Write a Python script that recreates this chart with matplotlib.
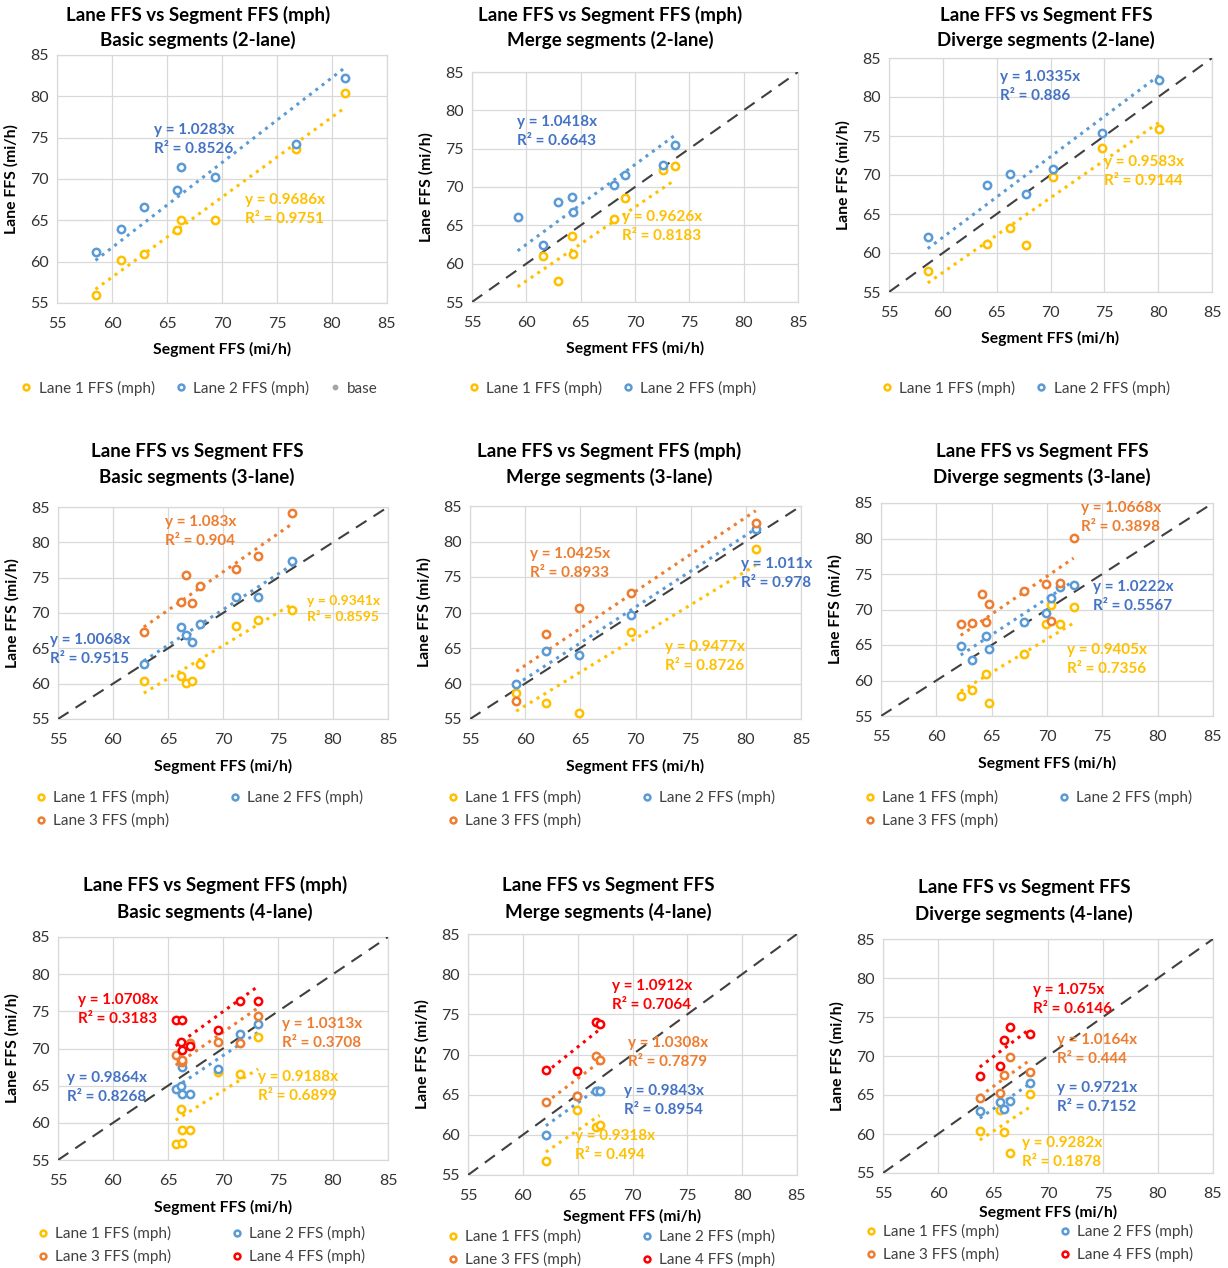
import numpy as np
import matplotlib
matplotlib.use("Agg")
from matplotlib import pyplot as plt
from matplotlib.lines import Line2D

plt.rcParams['font.family'] = ['Lato', 'DejaVu Sans']

nan = np.nan

# ---- data ----
# Basic segments (2-lane)
b2_seg = [58.5, 60.8, 62.9, 65.9, 66.3, 69.4, 76.7, 81.2]
b2_l1 = [56.0, 60.2, 60.9, 63.8, 65.0, 65.0, 73.6, 80.4]
b2_l2 = [61.2, 64.0, 66.6, 68.7, 71.5, 70.2, 74.2, 82.2]

# Merge segments (2-lane)
m2_seg = [59.2, 61.5, 62.9, 64.2, 64.3, 68.1, 69.1, 72.6, 73.7]
m2_l1 = [nan, 61.0, 57.8, 63.6, 61.2, 65.8, 68.5, 72.2, 72.8]
m2_l2 = [66.1, 62.4, 68.1, 68.7, 66.8, 70.2, 71.5, 72.9, 75.5]

# Diverge segments (2-lane)
d2_seg = [58.6, 64.1, 66.2, 67.7, 70.2, 74.8, 80.1]
d2_l1 = [57.7, 61.2, 63.2, 61.0, 69.8, 73.4, 75.9]
d2_l2 = [62.0, 68.7, 70.1, 67.6, 70.8, 75.4, 82.2]

# Basic segments (3-lane)
b3_seg = [62.8, 66.2, 66.6, 67.2, 67.9, 71.2, 73.2, 76.3]
b3_l1 = [60.4, 61.1, 60.1, 60.4, 62.8, 68.2, 69.0, 70.4]
b3_l2 = [62.8, 68.0, 66.9, 65.9, 68.4, 72.2, 72.3, 77.3]
b3_l3 = [67.3, 71.5, 75.4, 71.4, 73.8, 76.2, 78.1, 84.1]

# Merge segments (3-lane)
m3_seg = [59.2, 61.9, 64.9, 69.6, 80.9]
m3_l1 = [58.6, 57.3, 55.9, 67.2, 79.0]
m3_l2 = [60.0, 64.6, 64.0, 69.7, 81.8]
m3_l3 = [57.6, 67.0, 70.7, 72.7, 82.6]

# Diverge segments (3-lane)
d3_seg = [62.2, 63.2, 64.1, 64.5, 64.8, 67.9, 69.9, 70.4, 71.2, 72.4]
d3_l1 = [57.8, 58.6, nan, 60.9, 56.8, 63.8, 68.0, 70.7, 68.0, 70.4]
d3_l2 = [64.9, 62.9, nan, 66.2, 64.4, 68.3, 69.5, 71.6, 73.2, 73.4]
d3_l3 = [68.0, 68.1, 72.2, 68.2, 70.8, 72.6, 73.6, 68.4, 73.8, 80.1]

# Basic segments (4-lane)
b4_seg = [65.7, 66.2, 66.3, 66.3, 67.0, 69.5, 71.5, 73.2]
b4_l1 = [57.2, 61.9, 57.3, 59.1, 59.1, 66.9, 66.6, 71.6]
b4_l2 = [64.5, 65.0, 67.5, 63.9, 63.9, 67.3, 72.0, 73.3]
b4_l3 = [69.1, 68.3, 68.2, 68.4, 70.8, 70.9, 70.8, 74.4]
b4_l4 = [73.9, 70.9, 73.8, 69.8, 70.4, 72.5, 76.4, 76.4]

# Merge segments (4-lane)
m4_seg = [62.1, 64.9, 66.7, 67.0]
m4_l1 = [56.8, 63.1, 61.0, 61.2]
m4_l2 = [60.0, 64.8, 65.4, 65.5]
m4_l3 = [64.1, 64.8, 69.8, 69.3]
m4_l4 = [68.1, 68.0, 74.1, 73.8]

# Diverge segments (4-lane)
d4_seg = [63.8, 65.6, 66.0, 66.5, 68.4]
d4_l1 = [60.4, 63.1, 60.2, 57.6, 65.1]
d4_l2 = [62.9, 64.1, 63.2, 64.2, 66.5]
d4_l3 = [64.6, 65.3, 67.6, 69.9, 67.9]
d4_l4 = [67.4, 68.7, 72.0, 73.7, 72.8]

# trendline equations (y = a x) shown in the chart
b2_fit = [(0.9686, 0.9751), (1.0283, 0.8526)]
m2_fit = [(0.9626, 0.8183), (1.0418, 0.6643)]
d2_fit = [(0.9583, 0.9144), (1.0335, 0.886)]
b3_fit = [(0.9341, 0.8595), (1.0068, 0.9515), (1.083, 0.904)]
m3_fit = [(0.9477, 0.8726), (1.011, 0.978), (1.0425, 0.8933)]
d3_fit = [(0.9405, 0.7356), (1.0222, 0.5567), (1.0668, 0.3898)]
b4_fit = [(0.9188, 0.6899), (0.9864, 0.8268), (1.0313, 0.3708), (1.0708, 0.3183)]
m4_fit = [(0.9318, 0.494), (0.9843, 0.8954), (1.0308, 0.7879), (1.0912, 0.7064)]
d4_fit = [(0.9282, 0.1878), (0.9721, 0.7152), (1.0164, 0.444), (1.075, 0.6146)]

lane_names = ["Lane 1 FFS (mph)", "Lane 2 FFS (mph)", "Lane 3 FFS (mph)", "Lane 4 FFS (mph)"]
mark_colors = ["#FFC000", "#5B9BD5", "#ED7D31", "#FF0000"]
text_colors = ["#FFC000", "#4472C4", "#ED7D31", "#FF0000"]

W, H = 1228, 1268

# panel layout: axes box (left, top, right, bottom px), title centre/rows, xlabel y,
# legend centre, label positions (data coords) per lane
panels = [
    dict(t1="Lane FFS vs Segment FFS (mph)", t2="Basic segments (2-lane)",
         seg=b2_seg, lanes=[b2_l1, b2_l2], fit=b2_fit, diag=False,
         box=(57, 55, 387, 303), tx=198, ty=(15, 40), xl=349, lg=(200, 388),
         lab=[(72.1, 66.3), (63.8, 74.8)]),
    dict(t1="Lane FFS vs Segment FFS (mph)", t2="Merge segments (2-lane)",
         seg=m2_seg, lanes=[m2_l1, m2_l2], fit=m2_fit, diag=True,
         box=(472, 72, 798, 302), tx=610, ty=(15, 40), xl=348, lg=(613, 388),
         lab=[(68.8, 64.8), (59.1, 77.3)]),
    dict(t1="Lane FFS vs Segment FFS", t2="Diverge segments (2-lane)",
         seg=d2_seg, lanes=[d2_l1, d2_l2], fit=d2_fit, diag=True,
         box=(889, 58, 1212, 292), tx=1046, ty=(15, 40), xl=338, lg=(1026, 388),
         lab=[(75.0, 70.5), (65.3, 81.4)]),
    dict(t1="Lane FFS vs Segment FFS", t2="Basic segments (3-lane)",
         seg=b3_seg, lanes=[b3_l1, b3_l2, b3_l3], fit=b3_fit, diag=True,
         box=(58, 507, 388, 719), tx=197, ty=(451, 477), xl=766, lg=(200, 797),
         lab=[(77.6, 70.6), (54.3, 64.9), (64.7, 81.6)]),
    dict(t1="Lane FFS vs Segment FFS (mph)", t2="Merge segments (3-lane)",
         seg=m3_seg, lanes=[m3_l1, m3_l2, m3_l3], fit=m3_fit, diag=True,
         box=(470, 506, 801, 719), tx=609, ty=(451, 477), xl=766, lg=(612, 797),
         lab=[(72.7, 63.8), (79.6, 75.5), (60.4, 76.9)]),
    dict(t1="Lane FFS vs Segment FFS", t2="Diverge segments (3-lane)",
         seg=d3_seg, lanes=[d3_l1, d3_l2, d3_l3], fit=d3_fit, diag=True,
         box=(881, 503, 1213, 716), tx=1042, ty=(451, 477), xl=763, lg=(1029, 797),
         lab=[(71.8, 62.9), (74.2, 71.8), (73.1, 82.9)]),
    dict(t1="Lane FFS vs Segment FFS (mph)", t2="Basic segments (4-lane)",
         seg=b4_seg, lanes=[b4_l1, b4_l2, b4_l3, b4_l4], fit=b4_fit, diag=True,
         box=(58, 937, 388, 1160), tx=215, ty=(885, 912), xl=1207, lg=(202, 1233),
         lab=[(73.2, 64.9), (55.8, 64.8), (75.4, 72.0), (56.8, 75.2)]),
    dict(t1="Lane FFS vs Segment FFS", t2="Merge segments (4-lane)",
         seg=m4_seg, lanes=[m4_l1, m4_l2, m4_l3, m4_l4], fit=m4_fit, diag=True,
         box=(468, 934, 797, 1175), tx=608, ty=(885, 912), xl=1216, lg=(612, 1236),
         lab=[(64.8, 58.7), (69.2, 64.3), (69.6, 70.3), (68.1, 77.4)]),
    dict(t1="Lane FFS vs Segment FFS", t2="Diverge segments (4-lane)",
         seg=d4_seg, lanes=[d4_l1, d4_l2, d4_l3, d4_l4], fit=d4_fit, diag=True,
         box=(883, 939, 1213, 1173), tx=1024, ty=(887, 914), xl=1212, lg=(1030, 1231),
         lab=[(67.6, 57.6), (70.8, 64.7), (70.8, 70.8), (68.6, 77.2)]),
]

fig = plt.figure(figsize=(W / 100, H / 100), dpi=100)

for i, p in enumerate(panels):
    l, t, r, b = p["box"]
    ax = fig.add_axes([l / W, 1 - b / H, (r - l) / W, (b - t) / H])
    ax.set_xlim(55, 85)
    ax.set_ylim(55, 85)
    ax.set_xticks(range(55, 86, 5))
    ax.set_yticks(range(55, 86, 5))
    ax.grid(color="#D9D9D9", lw=0.9)
    ax.set_axisbelow(True)
    for s in ax.spines.values():
        s.set_color("#D9D9D9")
        s.set_linewidth(0.9)
    ax.tick_params(length=0, labelsize=11.5, colors="#333333")
    ax.tick_params(axis="x", pad=10)
    ax.tick_params(axis="y", pad=6)

    seg = np.array(p["seg"])
    xs = np.array([seg.min(), seg.max()])
    if p["diag"]:
        ax.plot([55, 85], [55, 85], color="#404040", lw=1.5, dashes=(6, 4), zorder=3)

    handles = []
    for k, lane in enumerate(p["lanes"]):
        a, r2 = p["fit"][k]
        ax.plot(xs, a * xs, ls=(0, (1, 1.6)), lw=2.2, color=mark_colors[k], zorder=2)
        h, = ax.plot(seg, lane, ls="none", marker="o", ms=5.3, mew=1.8,
                     mfc="white", mec=mark_colors[k], zorder=4, label=lane_names[k])
        handles.append(h)
        fs = 11
        if i == 3 and k == 0:
            fs = 10
        lx, ly = p["lab"][k]
        ax.text(lx, ly, "y = %gx\nR² = %g" % (a, r2), color=text_colors[k],
                fontsize=fs, fontweight="bold", va="center", ha="left",
                linespacing=1.45, zorder=5)

    if i == 0:
        handles.append(Line2D([], [], ls="none", marker="o", ms=4, color="#A6A6A6", label="base"))

    fig.text(p["tx"] / W, 1 - p["ty"][0] / H, p["t1"], ha="center", va="center",
             fontsize=13.5, fontweight="bold")
    fig.text(p["tx"] / W, 1 - p["ty"][1] / H, p["t2"], ha="center", va="center",
             fontsize=13.5, fontweight="bold")
    fig.text((l + r) / 2 / W, 1 - p["xl"] / H, "Segment FFS (mi/h)", ha="center",
             va="center", fontsize=11.3, fontweight="bold")
    fig.text((l - 46) / W, 1 - (t + b) / 2 / H, "Lane FFS (mi/h)", ha="center",
             va="center", rotation=90, fontsize=11.3, fontweight="bold")

    if i < 3:
        ncol, cs = len(handles), 1.4
    else:
        # legend fills column by column; reorder so rows read Lane 1, Lane 2 / Lane 3, Lane 4
        handles = handles[0::2] + handles[1::2]
        ncol, cs = 2, 4.0
    ax.legend(handles=handles, loc="center", ncol=ncol, frameon=False,
              bbox_to_anchor=(p["lg"][0] / W, 1 - (p["lg"][1] + (12 if i >= 3 else 0)) / H),
              bbox_transform=fig.transFigure, fontsize=11, handlelength=0.6,
              handletextpad=0.5, columnspacing=cs, labelspacing=0.5,
              markerscale=0.8, labelcolor="#404040")

fig.savefig("out.png", dpi=100, facecolor="white")
